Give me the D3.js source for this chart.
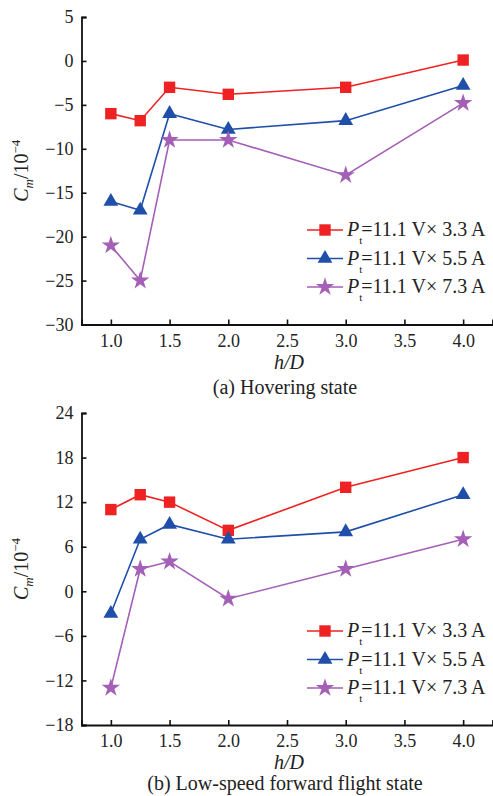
<!DOCTYPE html>
<meta charset="utf-8">
<style>
  body { margin: 0; background: #fff; }
  svg text { font-family: "Liberation Serif", "Times New Roman", serif; fill: #222; }
</style>
<body>
<svg width="493" height="796"></svg>
<script src="https://cdn.jsdelivr.net/npm/d3@7/dist/d3.min.js"></script>
<script>

    // h/D values shared by both panels
    var hD = [1.0, 1.25, 1.5, 2.0, 3.0, 4.0];
    var xTicks = [1.0, 1.5, 2.0, 2.5, 3.0, 3.5, 4.0];
    var currents = ["3.3", "5.5", "7.3"];

    // (a) Hovering state
    var hoverA = [-6.0, -6.8, -3.0, -3.8, -3.0, 0.1];
    var hoverB = [-16.0, -17.0, -6.0, -7.8, -6.8, -2.8];
    var hoverC = [-21.0, -25.0, -9.0, -9.0, -13.0, -4.8];
    var hoverTicks = [5, 0, -5, -10, -15, -20, -25, -30];

    // (b) Low-speed forward flight state
    var forwardA = [11.0, 13.0, 12.0, 8.2, 14.0, 18.0];
    var forwardB = [-3.0, 7.0, 9.0, 7.0, 8.0, 13.0];
    var forwardC = [-13.0, 3.0, 4.0, -1.0, 3.0, 7.0];
    var forwardTicks = [24, 18, 12, 6, 0, -6, -12, -18];

    var colors = ["#ee2222", "#1f4fa8", "#a45fb6"];
    var symbols = [d3.symbolSquare, d3.symbolTriangle, d3.symbolStar];
    var symSizes = [130, 95, 105];

    var svg = d3.select("svg");

    function fmt(v) {
        return v < 0 ? "\u2212" + Math.abs(v) : "" + v;
    }

    function drawPanel(opt) {
        var x = d3.scaleLinear().domain([0.75, 4.25]).range([81.5, 492.5]);
        var y = d3.scaleLinear().domain(opt.yDomain).range([opt.bottom, opt.top]);

        var g = svg.append("g");

        // series lines + markers
        opt.series.forEach(function (vals, i) {
            var pts = hD.map(function (h, j) { return [h, vals[j]]; });
            var line = d3.line()
                .x(function (d) { return x(d[0]); })
                .y(function (d) { return y(d[1]); });
            g.append("path")
                .attr("d", line(pts))
                .attr("fill", "none")
                .attr("stroke", colors[i])
                .attr("stroke-width", 1.6);
            g.selectAll(".m" + i)
                .data(pts)
                .enter().append("path")
                .attr("transform", function (d) { return "translate(" + x(d[0]) + "," + y(d[1]) + ")"; })
                .attr("d", d3.symbol().type(symbols[i]).size(symSizes[i]))
                .attr("fill", colors[i]);
        });

        // axes, ticks pointing inward
        var ax = g.append("g")
            .attr("transform", "translate(0," + opt.bottom + ")")
            .call(d3.axisBottom(x).tickValues(xTicks).tickSize(-5).tickPadding(6)
                .tickFormat(d3.format(".1f")));
        var ay = g.append("g")
            .attr("transform", "translate(81.5,0)")
            .call(d3.axisLeft(y).tickValues(opt.yTicks).tickSize(-5).tickPadding(8)
                .tickFormat(fmt));
        [ax, ay].forEach(function (a) {
            a.select(".domain").attr("stroke", "#111").attr("stroke-width", 1.8);
            a.selectAll(".tick line").attr("stroke", "#111").attr("stroke-width", 1.6);
            a.selectAll("text").attr("font-size", 18).attr("fill", "#222");
        });
        ax.selectAll("text").attr("dy", "0.9em");

        // y-axis label
        var yl = g.append("text")
            .attr("transform", "translate(28," + (opt.top + opt.bottom) / 2 + ") rotate(-90)")
            .attr("text-anchor", "middle")
            .attr("font-size", 20);
        yl.append("tspan").attr("font-style", "italic").text("C");
        yl.append("tspan").attr("font-style", "italic").attr("font-size", 13).attr("dy", 5).text("m");
        yl.append("tspan").attr("dy", -5).text("/10");
        yl.append("tspan").attr("font-size", 13).attr("dy", -8).text("\u22124");

        // x-axis label
        g.append("text")
            .attr("x", 289)
            .attr("y", opt.bottom + 44)
            .attr("text-anchor", "middle")
            .attr("font-size", 20)
            .attr("font-style", "italic")
            .text("h/D");

        // caption
        g.append("text")
            .attr("x", 285)
            .attr("y", opt.captionY)
            .attr("text-anchor", "middle")
            .attr("font-size", 20)
            .text(opt.caption);

        // legend
        var lg = g.append("g");
        currents.forEach(function (c, i) {
            var ly = opt.legendY + i * 28.5;
            lg.append("line")
                .attr("x1", 307).attr("x2", 343)
                .attr("y1", ly).attr("y2", ly)
                .attr("stroke", colors[i]).attr("stroke-width", 1.6);
            lg.append("path")
                .attr("transform", "translate(325," + ly + ")")
                .attr("d", d3.symbol().type(symbols[i]).size(symSizes[i]))
                .attr("fill", colors[i]);
            var t = lg.append("text")
                .attr("x", 347)
                .attr("y", ly + 6)
                .attr("font-size", 20);
            t.append("tspan").attr("font-style", "italic").text("P");
            t.append("tspan").attr("font-size", 11).attr("dy", 8).text("t");
            t.append("tspan").attr("dy", -8).attr("dx", -1).text("=11.1 V\u00d7 " + c + " A");
        });
    }

    drawPanel({
        series: [hoverA, hoverB, hoverC],
        yDomain: [-30, 5],
        yTicks: hoverTicks,
        top: 17,
        bottom: 324.5,
        legendY: 230,
        captionY: 394,
        caption: "(a) Hovering state"
    });

    drawPanel({
        series: [forwardA, forwardB, forwardC],
        yDomain: [-18, 24],
        yTicks: forwardTicks,
        top: 413,
        bottom: 725,
        legendY: 631,
        captionY: 790,
        caption: "(b) Low-speed forward flight state"
    });

</script>
</body>
